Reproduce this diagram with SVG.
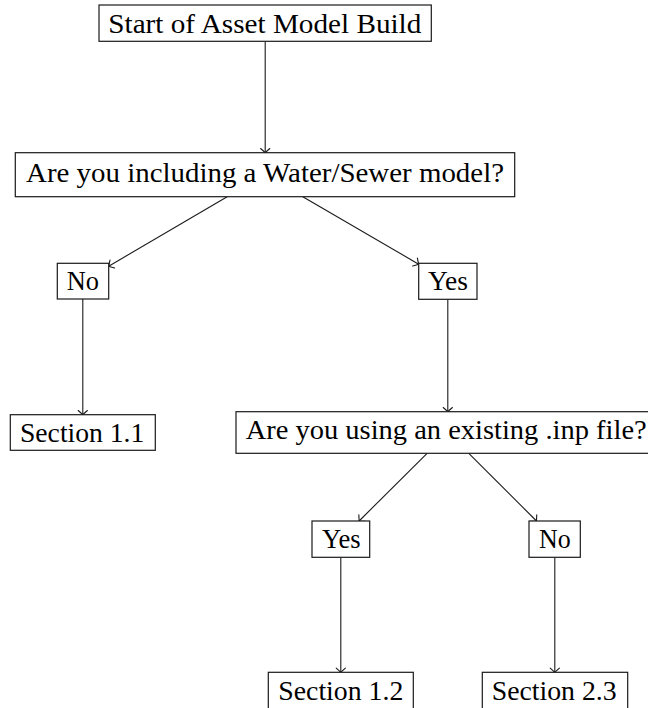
<svg xmlns="http://www.w3.org/2000/svg" width="648" height="708" viewBox="0 0 648 708">
<style>
.box{fill:#fff;stroke:#1a1a1a;stroke-width:1.2}
.lbl{font-family:"Liberation Serif","DejaVu Serif","Times New Roman",serif;font-size:27px;fill:#000}
.edge{fill:none;stroke:#1a1a1a;stroke-width:1.1;marker-end:url(#arr)}
</style>
<defs>
<marker id="arr" markerUnits="userSpaceOnUse" markerWidth="12" markerHeight="12" viewBox="-6 -6 12 12" refX="0" refY="0" orient="auto">
<path d="M-4.2,-4.6 Q-1.2,-1.2 0,0 Q-1.2,1.2 -4.2,4.6" fill="none" stroke="#1a1a1a" stroke-width="1.1" stroke-linecap="round"/>
</marker>
</defs>
<rect width="648" height="708" fill="#fff"/>
<g id="connectors">
<line class="edge" x1="265.2" y1="41.3" x2="265.2" y2="152.7"/>
<line class="edge" x1="227.2" y1="196.7" x2="108.7" y2="266.2"/>
<line class="edge" x1="302.8" y1="196.7" x2="418.7" y2="264.2"/>
<line class="edge" x1="82.8" y1="299" x2="82.8" y2="414.7"/>
<line class="edge" x1="447.8" y1="299.3" x2="447.8" y2="411.7"/>
<line class="edge" x1="427.1" y1="453.3" x2="359.1" y2="521"/>
<line class="edge" x1="468.8" y1="453.3" x2="536.5" y2="521"/>
<line class="edge" x1="340.8" y1="557.3" x2="340.8" y2="672.3"/>
<line class="edge" x1="554.8" y1="557.3" x2="554.8" y2="672.3"/>
</g>
<g id="start">
<rect class="box" x="99" y="5" width="332.3" height="36.3"/>
<text class="lbl" x="108.3" y="33.3" textLength="313" lengthAdjust="spacingAndGlyphs">Start of Asset Model Build</text>
</g>
<g id="q1">
<rect class="box" x="15.3" y="152.7" width="499.4" height="44"/>
<text class="lbl" x="26" y="181.5" textLength="478" lengthAdjust="spacingAndGlyphs">Are you including a Water/Sewer model?</text>
</g>
<g id="no1">
<rect class="box" x="57.3" y="263.3" width="51.4" height="35.7"/>
<text class="lbl" x="66.7" y="290.2" textLength="32.3" lengthAdjust="spacingAndGlyphs">No</text>
</g>
<g id="yes1">
<rect class="box" x="418.7" y="263.3" width="58.3" height="36"/>
<text class="lbl" x="428" y="290.2" textLength="40" lengthAdjust="spacingAndGlyphs">Yes</text>
</g>
<g id="s11">
<rect class="box" x="10.3" y="414.7" width="145" height="35.6"/>
<text class="lbl" x="20" y="441.9" textLength="124.3" lengthAdjust="spacingAndGlyphs">Section 1.1</text>
</g>
<g id="q2">
<rect class="box" x="236" y="411.7" width="424" height="41.6"/>
<text class="lbl" x="245.7" y="438.9" textLength="401" lengthAdjust="spacingAndGlyphs">Are you using an existing .inp file?</text>
</g>
<g id="yes2">
<rect class="box" x="312" y="521" width="57.7" height="36.3"/>
<text class="lbl" x="322" y="547.9" textLength="38.7" lengthAdjust="spacingAndGlyphs">Yes</text>
</g>
<g id="no2">
<rect class="box" x="529" y="521" width="51.3" height="36.3"/>
<text class="lbl" x="539" y="547.9" textLength="31.7" lengthAdjust="spacingAndGlyphs">No</text>
</g>
<g id="s12">
<rect class="box" x="268.3" y="672.3" width="145" height="38"/>
<text class="lbl" x="278.3" y="699.5" textLength="125" lengthAdjust="spacingAndGlyphs">Section 1.2</text>
</g>
<g id="s23">
<rect class="box" x="482.3" y="672.3" width="145.4" height="38"/>
<text class="lbl" x="491.7" y="699.5" textLength="125" lengthAdjust="spacingAndGlyphs">Section 2.3</text>
</g>
</svg>
